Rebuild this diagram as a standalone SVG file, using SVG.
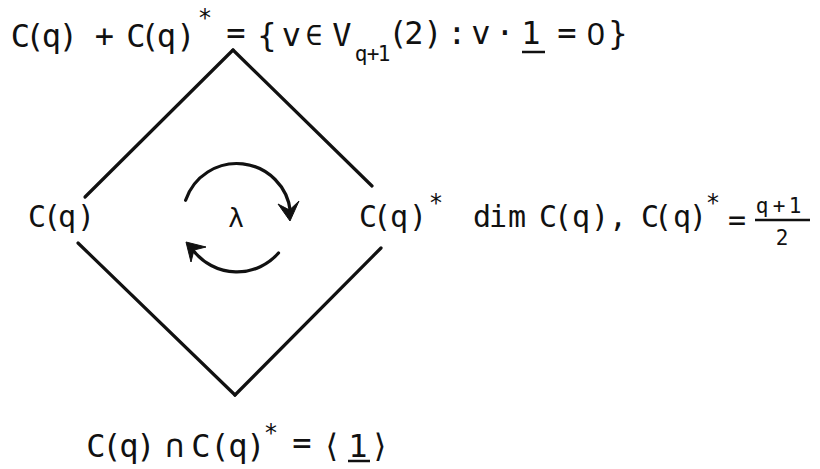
<svg xmlns="http://www.w3.org/2000/svg" width="820" height="469" viewBox="0 0 820 469">
<style>
  .t { font-family: "DejaVu Sans Mono", "DejaVu Sans", monospace; font-size: 32px; fill: #111; text-anchor: middle; }
  .m { font-size: 30px; }
  .s { font-size: 21px; }
  .st { font-size: 24px; }
  .z { font-family: "Liberation Sans", "DejaVu Sans", sans-serif; }
  .ln { stroke: #111; stroke-width: 3.2; fill: none; stroke-linecap: round; }
  .ul { stroke: #111; stroke-width: 2.5; fill: none; }
  .ah { fill: #111; stroke: #111; stroke-width: 1; stroke-linejoin: round; }
</style>
<rect width="820" height="469" fill="#fff"/>
<g id="connectors">
  <line class="ln" x1="233" y1="50" x2="85" y2="197"/>
  <line class="ln" x1="233" y1="50" x2="372" y2="186"/>
  <line class="ln" x1="78" y1="243" x2="235" y2="395"/>
  <line class="ln" x1="381" y1="248" x2="235" y2="395"/>
</g>
<g id="node-top">
  <text class="t" x="20.5 35 51.5 68.5" y="47">C(q)</text>
  <text class="t" x="104.5" y="47">+</text>
  <text class="t" x="136 150 166.5 186" y="47">C(q)</text>
  <text class="t st" x="205" y="26">*</text>
  <text class="t" x="236" y="44">=</text>
  <text class="t" x="267 291.5" y="46">{v</text>
  <text class="t" style="font-size:28px" x="314" y="45">∈</text>
  <text class="t" x="342" y="46">V</text>
  <text class="t s" x="361 373 384" y="61">q+1</text>
  <text class="t" x="398 414 433 457 481 505 531 567" y="44">(2):v·1=</text>
  <text class="t z" x="596" y="45">0</text>
  <text class="t" x="618" y="44">}</text>
  <line class="ul" x1="522" y1="52" x2="545" y2="52"/>
</g>
<g id="node-left">
  <text class="t m" x="37 52 67 86" y="227">C(q)</text>
</g>
<g id="node-right">
  <text class="t m" x="368 382 399 418" y="227">C(q)</text>
  <text class="t st" x="436" y="211">*</text>
</g>
<g id="annotation-dim">
  <text class="t m" x="482 498 517 548 563 581 600 618 650 663 682 698" y="227">dimC(q),C(q)</text>
  <text class="t st" x="713" y="211">*</text>
  <text class="t m" x="737" y="230">=</text>
  <text class="t s" x="762 779 795" y="213">q+1</text>
  <line class="ul" x1="755" y1="220" x2="810" y2="220"/>
  <text class="t s" x="782" y="245">2</text>
</g>
<g id="node-bottom">
  <text class="t" x="96 112 129 146" y="457">C(q)</text>
  <text class="t" x="175" y="457">∩</text>
  <text class="t" x="201 220 238 256" y="457">C(q)</text>
  <text class="t st" x="271" y="441">*</text>
  <text class="t" x="302" y="454">=</text>
  <text class="t" x="332 358 380" y="457">⟨1⟩</text>
  <line class="ul" x1="348" y1="461" x2="370" y2="461"/>
</g>
<g id="lambda-cycle">
  <path class="ln" d="M185.6,200.3 A54,54 0 0 1 290.5,212"/>
  <polygon class="ah" points="278,204 290,221 299,201 289.5,210"/>
  <path class="ln" d="M278.5,253 A55,55 0 0 1 193.7,250.9"/>
  <polygon class="ah" points="206,247 186,242 191,262 194,250"/>
  <text class="t" style="font-size:26px" x="236" y="227">λ</text>
</g>
</svg>
